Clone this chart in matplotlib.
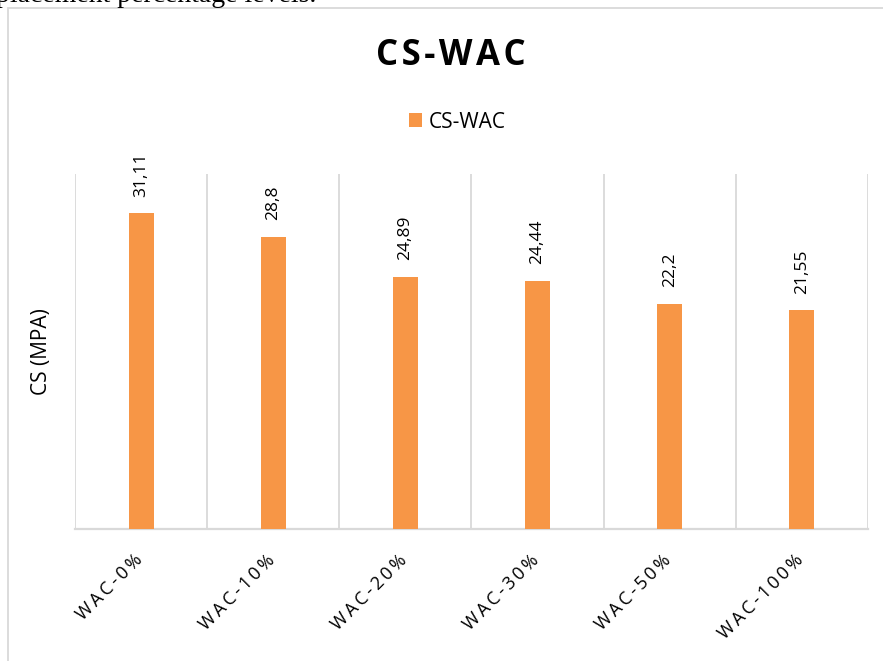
import matplotlib.pyplot as plt
from matplotlib.patches import Rectangle
import matplotlib.transforms as mtransforms
import numpy as np

plt.rcParams['font.family'] = ['Open Sans', 'DejaVu Sans']

categories = ['WAC-0%', 'WAC-10%', 'WAC-20%', 'WAC-30%', 'WAC-50%', 'WAC-100%']
values = [31.11, 28.8, 24.89, 24.44, 22.2, 21.55]
value_labels = ['31,11', '28,8', '24,89', '24,44', '22,2', '21,55']

W, H = 883, 661
fig = plt.figure(figsize=(W / 100, H / 100), dpi=100)

# plot area in pixels: left 75, right 868, top 174, bottom 529
ax = fig.add_axes([75 / W, 1 - 529 / H, (868 - 75) / W, (529 - 174) / H])

x = np.arange(len(categories))
ax.bar(x, values, width=0.19, color='#F79646', label='CS-WAC', zorder=3)
ax.set_xlim(-0.5, len(categories) - 0.5)
ax.set_ylim(0, 35)

# vertical gridlines at category boundaries
for b in np.arange(-0.5, len(categories), 1.0):
    ax.axvline(b, color='#D9D9D9', lw=1.3, zorder=1)

for s in ['top', 'right', 'left']:
    ax.spines[s].set_visible(False)
ax.spines['bottom'].set_color('#D9D9D9')
ax.spines['bottom'].set_linewidth(1.6)
ax.set_yticks([])
ax.tick_params(axis='x', length=0)

spaced = ['\u2009'.join(c) for c in categories]
ax.set_xticks(x)
ax.set_xticklabels(spaced, rotation=45, ha='right', va='center',
                   rotation_mode='anchor', fontsize=13)
offset = mtransforms.ScaledTranslation(-1 / 72, -17 / 72, fig.dpi_scale_trans)
for lbl in ax.get_xticklabels():
    lbl.set_transform(lbl.get_transform() + offset)

for xi, v, t in zip(x, values, value_labels):
    ax.annotate(t, (xi, v), xytext=(0, 12), textcoords='offset points',
                rotation=90, ha='center', va='bottom', fontsize=12.5)

ax.set_ylabel('CS (MPA)', fontsize=15)
ax.yaxis.set_label_coords(-(75 - 52) / (868 - 75), 0.5)

fig.text(451 / W, 1 - 56 / H, '\u200a'.join('CS-WAC'), ha='center', va='center',
         fontsize=25, fontweight='bold')

leg = ax.legend(loc='center', bbox_to_anchor=(457 / W, 1 - 122 / H),
                bbox_transform=fig.transFigure, frameon=False, fontsize=15,
                handlelength=0.65, handleheight=0.65, handletextpad=0.3)

# outer chart border
fig.add_artist(Rectangle((8 / W, -0.1), 1.2, 1 - 8 / H + 0.1,
                         transform=fig.transFigure, fill=False,
                         edgecolor='#D9D9D9', lw=1.3))

# clipped line of document text above the chart
fig.text(-4 / W, 1 - 2 / H, 'placement percentage levels.', ha='left',
         va='baseline', fontsize=20, family='Liberation Serif')

fig.savefig('out.png', dpi=100)
